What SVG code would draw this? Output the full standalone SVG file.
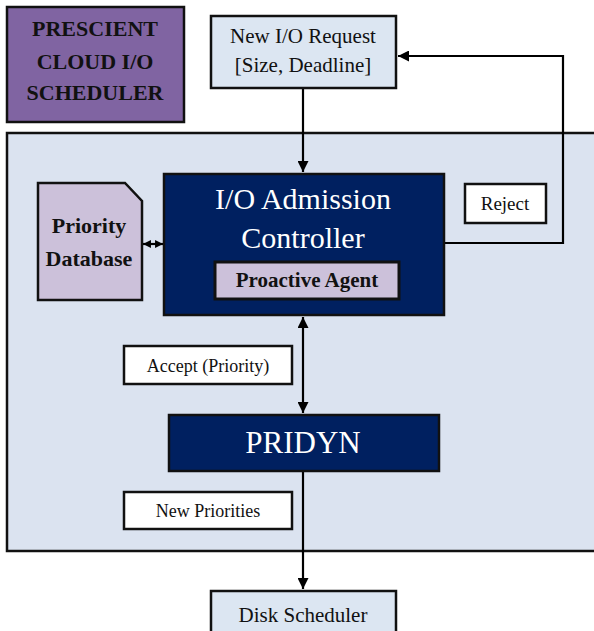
<svg xmlns="http://www.w3.org/2000/svg" width="594" height="631" viewBox="0 0 594 631">
<defs>
<style>
.box{stroke:#111;stroke-width:2.5}
.t{font-family:"Liberation Serif",serif;text-anchor:middle}
.b{font-weight:bold}
.line{fill:none;stroke:#000;stroke-width:2.2}
</style>
<marker id="ah" viewBox="0 0 10 10" refX="10" refY="5" markerWidth="5" markerHeight="5" orient="auto-start-reverse" markerUnits="strokeWidth">
<path d="M0,0 L10,5 L0,10 z" fill="#000"/>
</marker>
<marker id="ahs" viewBox="0 0 10 10" refX="10" refY="5" markerWidth="3.6" markerHeight="3.6" orient="auto-start-reverse" markerUnits="strokeWidth">
<path d="M0,0 L10,5 L0,10 z" fill="#000"/>
</marker>
</defs>
<rect width="594" height="631" fill="#fff"/>
<g id="container"><rect class="box" x="7" y="133" width="600" height="418" fill="#dbe3f0"/></g>
<g id="title"><rect class="box" x="7" y="7" width="177" height="115" fill="#8064a2"/>
<text class="t b" x="95" y="36" font-size="22" fill="#111">PRESCIENT</text>
<text class="t b" x="95" y="69" font-size="22" fill="#111">CLOUD I/O</text>
<text class="t b" x="95" y="100" font-size="22" fill="#111">SCHEDULER</text></g>
<g id="connectors">
<line class="line" x1="303" y1="89" x2="303" y2="172" marker-end="url(#ah)"/>
<polyline class="line" points="444,243 563,243 563,56 398,56" marker-end="url(#ah)"/>
<line class="line" x1="143" y1="244" x2="163" y2="244" marker-start="url(#ahs)" marker-end="url(#ahs)"/>
<line class="line" x1="303" y1="317" x2="303" y2="413" marker-start="url(#ah)" marker-end="url(#ah)"/>
<line class="line" x1="303" y1="471" x2="303" y2="589" marker-end="url(#ah)"/>
</g>
<g id="request"><rect class="box" x="211" y="16" width="185" height="72" fill="#dce6f2"/>
<text class="t" x="303" y="43" font-size="21" fill="#111">New I/O Request</text>
<text class="t" x="303" y="72" font-size="21" fill="#111">[Size, Deadline]</text></g>
<g id="database"><path class="box" d="M38,183 L125,183 L142,201 L142,300 L38,300 Z" fill="#ccc1da"/>
<text class="t b" x="89" y="233" font-size="22" fill="#111">Priority</text>
<text class="t b" x="89" y="266" font-size="22" fill="#111">Database</text></g>
<g id="controller"><rect class="box" x="164" y="174" width="280" height="141" fill="#002060"/>
<text class="t" x="303" y="209" font-size="30" fill="#fff">I/O Admission</text>
<text class="t" x="303" y="248" font-size="30" fill="#fff">Controller</text></g>
<g id="agent"><rect x="215" y="262" width="184" height="37" fill="#ccc1da" stroke="#111" stroke-width="3"/>
<text class="t b" x="307" y="287" font-size="21" fill="#111">Proactive Agent</text></g>
<g id="reject"><rect class="box" x="465" y="184" width="81" height="39" fill="#fff"/>
<text class="t" x="505" y="210" font-size="19" fill="#111">Reject</text></g>
<g id="accept"><rect class="box" x="124" y="346" width="168" height="38" fill="#fff"/>
<text class="t" x="208" y="372" font-size="18" fill="#111">Accept (Priority)</text></g>
<g id="pridyn"><rect class="box" x="169" y="415" width="270" height="56" fill="#002060"/>
<text class="t" x="303" y="453" font-size="31" fill="#fff">PRIDYN</text></g>
<g id="newprio"><rect class="box" x="124" y="492" width="168" height="37" fill="#fff"/>
<text class="t" x="208" y="517" font-size="18" fill="#111">New Priorities</text></g>
<g id="disk"><rect class="box" x="211" y="591" width="185" height="50" fill="#dce6f2"/>
<text class="t" x="303" y="622" font-size="21" fill="#111">Disk Scheduler</text></g>
</svg>
